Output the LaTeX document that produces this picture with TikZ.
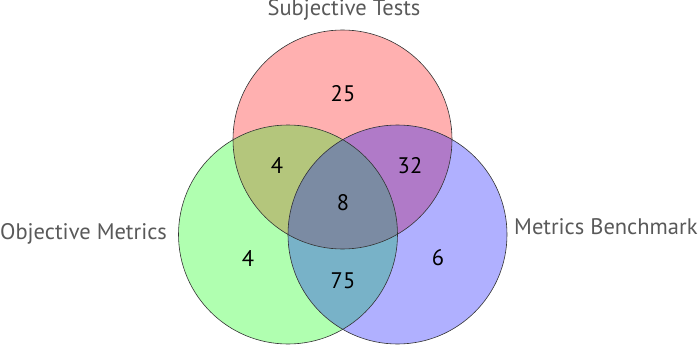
\documentclass[tikz,border=0pt]{standalone}
\usepackage{fontspec}
\setmainfont{PT Sans}
\definecolor{cTop}{HTML}{FFB0B0}
\definecolor{cLeft}{HTML}{B0FFB0}
\definecolor{cRight}{HTML}{B0B0FF}
\definecolor{cTL}{HTML}{B4C67C}
\definecolor{cTR}{HTML}{B07AC8}
\definecolor{cLR}{HTML}{78B2C8}
\definecolor{cAll}{HTML}{7B8BA3}
\definecolor{lblgray}{HTML}{595959}
\tikzset{
  setlabel/.style={text=lblgray,font=\fontsize{22.5}{22.5}\selectfont,inner sep=0pt},
  count/.style={text=black,font=\fontsize{22.5}{22.5}\selectfont,inner sep=0pt},
  rim/.style={draw=black!80,line width=0.6pt}
}
\begin{document}
\begin{tikzpicture}[x=1pt,y=-1pt]
\useasboundingbox (0,0) rectangle (699,345);
\def\R{109.5}
\coordinate (ct) at (342.5,139.5);
\coordinate (cl) at (288,234.5);
\coordinate (cr) at (397.5,234.5);
% base fills
\fill[cTop] (ct) circle (\R);
\fill[cLeft] (cl) circle (\R);
\fill[cRight] (cr) circle (\R);
% pairwise
\begin{scope}\clip (ct) circle (\R); \fill[cTL] (cl) circle (\R); \end{scope}
\begin{scope}\clip (ct) circle (\R); \fill[cTR] (cr) circle (\R); \end{scope}
\begin{scope}\clip (cl) circle (\R); \fill[cLR] (cr) circle (\R); \end{scope}
\begin{scope}\clip (ct) circle (\R); \clip (cl) circle (\R); \fill[cAll] (cr) circle (\R); \end{scope}
% outlines
\draw[rim] (ct) circle (\R);
\draw[rim] (cl) circle (\R);
\draw[rim] (cr) circle (\R);
% counts
\node[count] (n25) at (343,94) {25};
\node[count] (n4a) at (277,166) {4};
\node[count] (n32) at (410,166) {32};
\node[count] (n8) at (343,203) {8};
\node[count] (n4b) at (248,258) {4};
\node[count] (n6) at (438,258) {6};
\node[count] (n75) at (343,281) {75};
% set labels
\node[setlabel] (lt) at (344,10) {Subjective Tests};
\node[setlabel,anchor=west] (ll) at (0,234) {Objective Metrics};
\node[setlabel,anchor=west] (lr) at (514,227) {Metrics Benchmark};
\end{tikzpicture}
\end{document}
